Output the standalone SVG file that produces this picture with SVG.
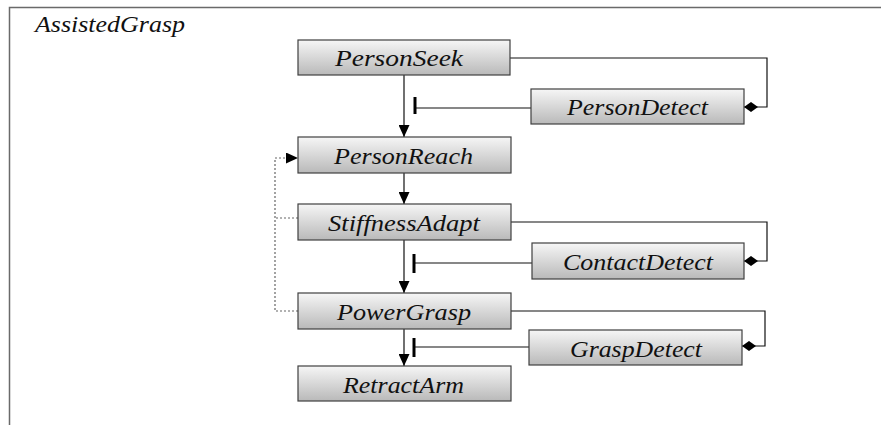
<svg xmlns="http://www.w3.org/2000/svg" width="881" height="425" viewBox="0 0 881 425">
  <style>
    .box { fill: url(#boxFill); stroke: #404040; stroke-width: 1.2; }
    text { font-family: 'Liberation Serif', 'Times New Roman', serif; font-style: italic; font-size: 24px; fill: #111; }
    .wire { fill: none; stroke: #111; stroke-width: 1.2; }
    .bar { fill: none; stroke: #000; stroke-width: 3; }
    .dot { fill: none; stroke: #666; stroke-width: 1.2; stroke-dasharray: 2 2; }
  </style>
  <defs>
    <linearGradient id="boxFill" x1="0" y1="0" x2="0" y2="1">
      <stop offset="0" stop-color="#f6f6f6"/>
      <stop offset="1" stop-color="#b9b9b9"/>
    </linearGradient>
    <marker id="arrow" viewBox="0 0 12 11" refX="12" refY="5.5" markerWidth="12" markerHeight="11" markerUnits="userSpaceOnUse" orient="auto">
      <path d="M0,0 L12,5.5 L0,11 Z" fill="#000"/>
    </marker>
    <marker id="diamond" viewBox="0 0 14 10" refX="14" refY="5" markerWidth="14" markerHeight="10" markerUnits="userSpaceOnUse" orient="auto">
      <path d="M0,5 L7,0 L14,5 L7,10 Z" fill="#000"/>
    </marker>
  </defs>

  <!-- enclosing frame -->
  <path d="M9.5,425 L9.5,7.5 L881,7.5" fill="none" stroke="#6a6a6a" stroke-width="1.5"/>
  <text x="35" y="32" textLength="150" lengthAdjust="spacingAndGlyphs">AssistedGrasp</text>

  <g id="connectors">
    <!-- sequence arrows -->
    <line class="wire" x1="404" y1="75" x2="404" y2="137" marker-end="url(#arrow)"/>
    <line class="wire" x1="404" y1="173" x2="404" y2="204" marker-end="url(#arrow)"/>
    <line class="wire" x1="404" y1="240" x2="404" y2="293" marker-end="url(#arrow)"/>
    <line class="wire" x1="404" y1="329" x2="404" y2="366" marker-end="url(#arrow)"/>

    <!-- loop back from grasp / stiffness to reach -->
    <path class="dot" d="M298,311 H275 V158 H287"/>
    <path class="dot" d="M298,218 H275"/>
    <line x1="287" y1="158" x2="298" y2="158" stroke="none" marker-end="url(#arrow)"/>

    <!-- detector attachments -->
    <path class="wire" d="M510,58 H767 V107 H744" marker-end="url(#diamond)"/>
    <path class="wire" d="M511,222 H767 V261 H744" marker-end="url(#diamond)"/>
    <path class="wire" d="M511,311 H765 V346 H742" marker-end="url(#diamond)"/>

    <!-- inhibitors -->
    <line class="wire" x1="531" y1="108" x2="415" y2="108"/>
    <line class="bar" x1="415" y1="97" x2="415" y2="114"/>
    <line class="wire" x1="532" y1="263" x2="414" y2="263"/>
    <line class="bar" x1="414" y1="254" x2="414" y2="273"/>
    <line class="wire" x1="529" y1="347" x2="414" y2="347"/>
    <line class="bar" x1="414" y1="338" x2="414" y2="357"/>
  </g>

  <g id="PersonSeek">
    <rect class="box" x="298" y="40" width="212" height="35"/>
    <text x="335" y="66" textLength="128" lengthAdjust="spacingAndGlyphs">PersonSeek</text>
  </g>
  <g id="PersonDetect">
    <rect class="box" x="531" y="89" width="213" height="35"/>
    <text x="567" y="115" textLength="141" lengthAdjust="spacingAndGlyphs">PersonDetect</text>
  </g>
  <g id="PersonReach">
    <rect class="box" x="298" y="137" width="213" height="36"/>
    <text x="334" y="164" textLength="139" lengthAdjust="spacingAndGlyphs">PersonReach</text>
  </g>
  <g id="StiffnessAdapt">
    <rect class="box" x="298" y="204" width="213" height="36"/>
    <text x="328" y="231" textLength="152" lengthAdjust="spacingAndGlyphs">StiffnessAdapt</text>
  </g>
  <g id="ContactDetect">
    <rect class="box" x="532" y="243" width="212" height="36"/>
    <text x="563" y="270" textLength="150" lengthAdjust="spacingAndGlyphs">ContactDetect</text>
  </g>
  <g id="PowerGrasp">
    <rect class="box" x="298" y="293" width="213" height="36"/>
    <text x="337" y="320" textLength="134" lengthAdjust="spacingAndGlyphs">PowerGrasp</text>
  </g>
  <g id="GraspDetect">
    <rect class="box" x="529" y="330" width="213" height="35"/>
    <text x="570" y="357" textLength="132" lengthAdjust="spacingAndGlyphs">GraspDetect</text>
  </g>
  <g id="RetractArm">
    <rect class="box" x="298" y="366" width="213" height="35"/>
    <text x="343" y="393" textLength="121" lengthAdjust="spacingAndGlyphs">RetractArm</text>
  </g>
</svg>
